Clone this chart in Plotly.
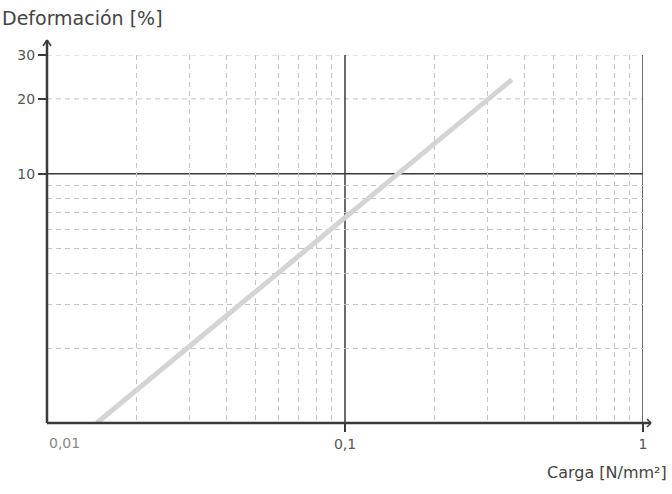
import plotly.graph_objects as go

# Data (log-log)
carga = [0.0147, 0.363]          # N/mm2
deformacion = [1.0, 23.9]        # %

x_tick_vals = [0.1, 1]
x_tick_text = ["0,1", "1"]
y_tick_vals = [10, 20, 30]
y_tick_text = ["10", "20", "30"]
x_minor = [0.02, 0.03, 0.04, 0.05, 0.06, 0.07, 0.08, 0.09,
           0.2, 0.3, 0.4, 0.5, 0.6, 0.7, 0.8, 0.9]
y_minor = [2, 3, 4, 5, 6, 7, 8, 9]
y_dashed_major = [20, 30]
x_major_lines = [0.1, 1]
y_major_lines = [10]

FONT = "DejaVu Sans"
AX = "#3a3a3a"
GRID = "#c4c4c4"
DASH = "5px,4px"

fig = go.Figure()
fig.add_trace(go.Scatter(x=carga, y=deformacion, mode="lines",
                         line=dict(color="#d4d4d4", width=5),
                         hoverinfo="skip", showlegend=False))

shapes = []
for yv in y_dashed_major:
    shapes.append(dict(type="line", xref="paper", yref="y", x0=0, x1=1, y0=yv, y1=yv,
                       line=dict(color=GRID, width=1, dash=DASH), layer="between"))
for xv in x_major_lines:
    shapes.append(dict(type="line", xref="x", yref="paper", x0=xv, x1=xv, y0=0, y1=1,
                       line=dict(color=AX, width=1.5), layer="between"))
for yv in y_major_lines:
    shapes.append(dict(type="line", xref="paper", yref="y", x0=0, x1=1, y0=yv, y1=yv,
                       line=dict(color=AX, width=1.5), layer="between"))

# axis lines with open arrows (paper coordinates)
W, H = 596.0, 368.0
def px(dx):
    return dx / W
def py(dy):
    return dy / H
axes_lines = [
    ((0, 0), (0, py(383)), 2.5),                       # y axis
    ((-px(4), py(377)), (0, py(383)), 1.5),
    ((px(4), py(377)), (0, py(383)), 1.5),
    ((0, 0), (px(604), 0), 2.5),                       # x axis
    ((px(600), py(4)), (px(604), 0), 1.5),
    ((px(600), -py(4)), (px(604), 0), 1.5),
]
for (a, b, w) in axes_lines:
    shapes.append(dict(type="line", xref="paper", yref="paper",
                       x0=a[0], y0=a[1], x1=b[0], y1=b[1],
                       line=dict(color=AX, width=w), layer="above"))

annotations = [
    dict(text="Deformación [%]", xref="paper", yref="paper",
         x=px(-47), y=py(405), xanchor="left", yanchor="middle", showarrow=False,
         font=dict(family=FONT, size=19, color="#444")),
    dict(text="Carga [N/mm²]", xref="paper", yref="paper",
         x=px(622), y=-py(49), xanchor="right", yanchor="middle", showarrow=False,
         font=dict(family=FONT, size=16, color="#444")),
    dict(text="0,01", xref="paper", yref="paper",
         x=0, y=-py(20), xanchor="left", yanchor="middle", showarrow=False,
         font=dict(family=FONT, size=14, color="#888")),
]

fig.update_layout(
    width=672, height=494,
    margin=dict(l=47, r=29, t=55, b=71, pad=0),
    plot_bgcolor="white", paper_bgcolor="white",
    shapes=shapes, annotations=annotations,
    showlegend=False,
    xaxis=dict(type="log", range=[-2, 0], tickmode="array",
               tickvals=x_tick_vals, ticktext=x_tick_text,
               ticks="outside", ticklen=8, tickwidth=1.5, tickcolor=AX,
               tickfont=dict(family=FONT, size=14, color="#555"),
               showgrid=False, zeroline=False, showline=False, automargin=False,
               minor=dict(tickmode="array", tickvals=x_minor, ticks="",
                          showgrid=True, gridcolor=GRID, gridwidth=1, griddash=DASH)),
    yaxis=dict(type="log", range=[0, 1.4771], tickmode="array",
               tickvals=y_tick_vals, ticktext=y_tick_text,
               ticks="outside", ticklen=8, tickwidth=1.5, tickcolor=AX,
               tickfont=dict(family=FONT, size=14, color="#555"),
               showgrid=False, zeroline=False, showline=False, automargin=False,
               minor=dict(tickmode="array", tickvals=y_minor, ticks="",
                          showgrid=True, gridcolor=GRID, gridwidth=1, griddash=DASH)),
)

fig.write_html("out.html", config={"displayModeBar": False},
               post_script="document.body.style.margin='0px';document.body.style.overflow='hidden';")
